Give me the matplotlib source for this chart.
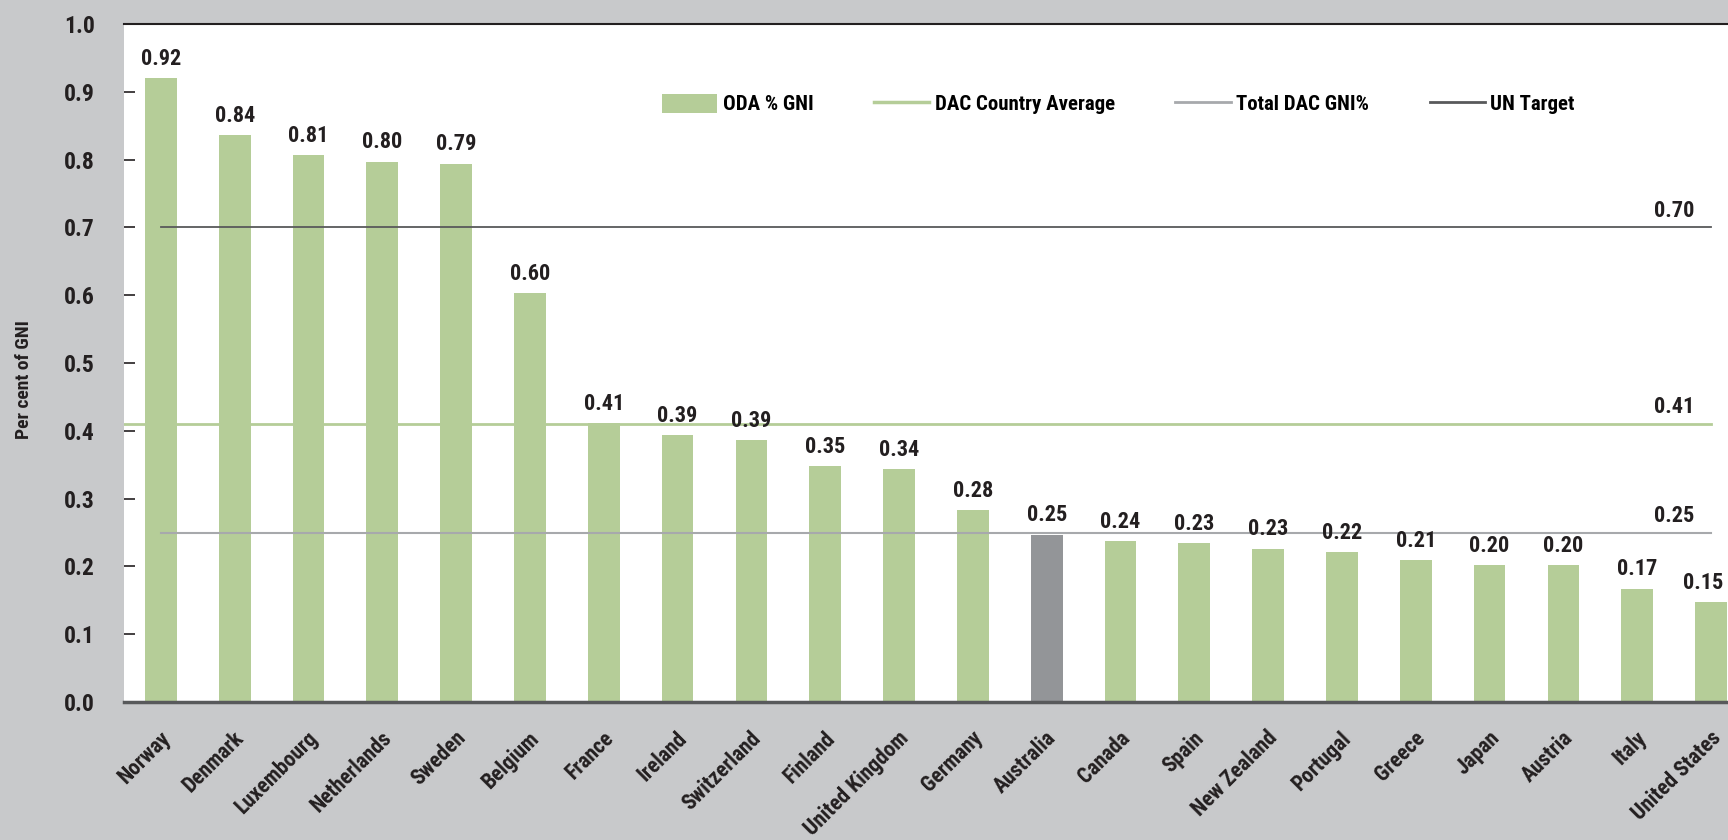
import numpy as np
import matplotlib.pyplot as plt
from matplotlib import font_manager
from matplotlib.patches import Patch
from matplotlib.lines import Line2D
import matplotlib.transforms as mtransforms

# data
countries = ["Norway", "Denmark", "Luxembourg", "Netherlands", "Sweden", "Belgium",
             "France", "Ireland", "Switzerland", "Finland", "United Kingdom", "Germany",
             "Australia", "Canada", "Spain", "New Zealand", "Portugal", "Greece",
             "Japan", "Austria", "Italy", "United States"]
oda_gni = [0.92, 0.836, 0.807, 0.797, 0.794, 0.603, 0.411, 0.394, 0.386, 0.348, 0.343,
           0.283, 0.247, 0.237, 0.234, 0.226, 0.221, 0.209, 0.202, 0.202, 0.167, 0.147]
dac_country_average = 0.41
total_dac_gni = 0.25
un_target = 0.70
highlight = "Australia"

# pick a condensed font if one is installed
fonts = font_manager.fontManager.ttflist
names = {f.name for f in fonts}
stretch = 'normal'
family = 'DejaVu Sans'
for cand in ['Liberation Sans Narrow', 'Roboto Condensed', 'Open Sans Condensed',
             'Noto Sans Condensed', 'DejaVu Sans Condensed']:
    if cand in names:
        family = cand
        break
else:
    for f in fonts:
        if f.stretch in ('condensed', 'semi-condensed', 'extra-condensed', 500, 300, 400) \
                or 'Condensed' in f.fname or 'Narrow' in f.fname:
            family = f.name
            stretch = 'condensed'
            break
plt.rcParams['font.family'] = [family, 'DejaVu Sans']
plt.rcParams['font.stretch'] = stretch
plt.rcParams['font.weight'] = 'bold'

green = '#b5cd98'
grey_bar = '#939598'
bg = '#c8c9cb'
dark = '#231f20'

fig = plt.figure(figsize=(17.28, 8.4), dpi=100, facecolor=bg)
ax = fig.add_axes([124 / 1728, 1 - 702 / 840, 1 - 124 / 1728, (702 - 24) / 840])
ax.set_facecolor('white')

x = np.arange(len(countries))
colors = [grey_bar if c == highlight else green for c in countries]
ax.bar(x, oda_gni, width=0.43, color=colors, zorder=2)

# reference lines
ax.plot([-0.5, x[-1]], [dac_country_average] * 2, color=green, lw=2, zorder=3)
ax.plot([0, x[-1]], [total_dac_gni] * 2, color='#a7a9ac', lw=1.5, zorder=3)
ax.plot([0, x[-1]], [un_target] * 2, color='#58595b', lw=1.3, zorder=3)

for v in [un_target, dac_country_average, total_dac_gni]:
    ax.annotate(f"{v:.2f}", (20.5, v), xytext=(0, 4), textcoords='offset points',
                ha='center', va='bottom', fontsize=16, color=dark)

for xi, v in zip(x, oda_gni):
    dx = -6 if xi == x[-1] else 0   # last label nudged in from the edge
    ax.annotate(f"{v:.2f}", (xi, v), xytext=(dx, 6), textcoords='offset points',
                ha='center', va='bottom', fontsize=16, color=dark)

ax.set_xlim(-0.5, 21.23)
ax.set_ylim(0, 1.0)
ax.set_yticks(np.arange(0, 1.01, 0.1))
ax.set_yticklabels([f"{t:.1f}" for t in np.arange(0, 1.01, 0.1)], fontsize=17, color=dark)
ax.tick_params(axis='y', direction='in', length=8, width=1.2, color=dark, pad=21)
ax.set_xticks(x)
ax.set_xticklabels(countries, rotation=45, ha='right', rotation_mode='anchor',
                   fontsize=15.5, color=dark)
ax.tick_params(axis='x', length=0, pad=18)
offset = mtransforms.ScaledTranslation(-1 / 72, 0, fig.dpi_scale_trans)
for lab in ax.get_xticklabels():
    lab.set_transform(lab.get_transform() + offset)

ax.set_ylabel("Per cent of GNI", fontsize=14, fontweight='bold', color=dark)
ax.yaxis.set_label_coords(-0.057, 0.475)

for s in ['left', 'right']:
    ax.spines[s].set_visible(False)
ax.spines['top'].set_color(dark)
ax.spines['top'].set_linewidth(1.5)
ax.spines['bottom'].set_color('#58595b')
ax.spines['bottom'].set_linewidth(2.5)
ax.spines['bottom'].set_zorder(4)

handles = [Patch(facecolor=green, edgecolor='none'),
           Line2D([], [], color=green, lw=2.5),
           Line2D([], [], color='#a7a9ac', lw=2),
           Line2D([], [], color='#58595b', lw=2)]
labels = ["ODA % GNI", "DAC Country Average", "Total DAC GNI%", "UN Target"]
fig.legend(handles, labels, ncol=4, loc='center left', bbox_to_anchor=(662 / 1728, 1 - 104 / 840),
           frameon=False, fontsize=15, handlelength=2.65, handleheight=1.05,
           handletextpad=0.27, columnspacing=2.9, borderpad=0, borderaxespad=0)

fig.savefig("out.png", dpi=100, facecolor=bg)
